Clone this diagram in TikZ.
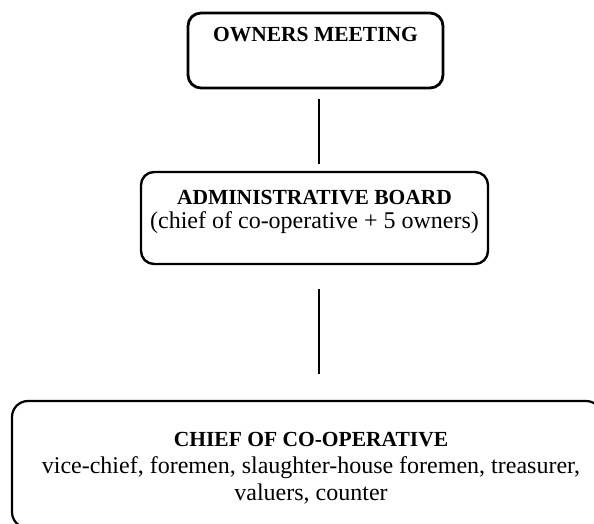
\documentclass[tikz,border=0pt]{standalone}
\usepackage{fontspec}
\setmainfont{Liberation Serif}
\usetikzlibrary{calc}
\begin{document}
\begin{tikzpicture}[x=1pt,y=-1pt,
  boxshape/.style={draw=black, rounded corners=13pt, inner sep=0pt},
  boldtxt/.style={font=\fontsize{21.5}{26}\selectfont\bfseries, inner sep=0pt, align=center},
  regtxt/.style={font=\fontsize{24}{27}\selectfont, inner sep=0pt, align=center},
  conn/.style={draw=black, line width=1.3pt}]
\useasboundingbox (0,0) rectangle (594,524);
\fill[white] (0,0) rectangle (594,524);
\clip (0,0) rectangle (594,524);
% boxes
\node[boxshape, line width=2.8pt, minimum width=255pt, minimum height=75pt] (b1) at (315.5,50.5) {};
\node[boxshape, line width=2.4pt, minimum width=347pt, minimum height=92pt] (b2) at (314.5,218) {};
\node[boxshape, line width=2.2pt, rounded corners=16pt, minimum width=590pt, minimum height=127pt] (b3) at (307,464.5) {};
% texts
\node[boldtxt] (t1) at (315.5,35) {OWNERS MEETING};
\node[boldtxt] (t2a) at (314.5,198) {ADMINISTRATIVE BOARD};
\node[regtxt] (t2b) at (314.5,223) {(chief of co-operative + 5 owners)};
\node[boldtxt] (t3a) at (311,440) {CHIEF OF CO-OPERATIVE};
\node[regtxt] (t3b) at (311,480.5) {vice-chief, foremen, slaughter-house foremen, treasurer,\\valuers, counter};
% connectors
\draw[conn, shorten <=10pt, shorten >=7pt] (b1.south -| 319,0) -- (b2.north -| 319,0);
\draw[conn, shorten <=24pt, shorten >=26pt] (b2.south -| 319,0) -- (b3.north -| 319,0);
\end{tikzpicture}
\end{document}
